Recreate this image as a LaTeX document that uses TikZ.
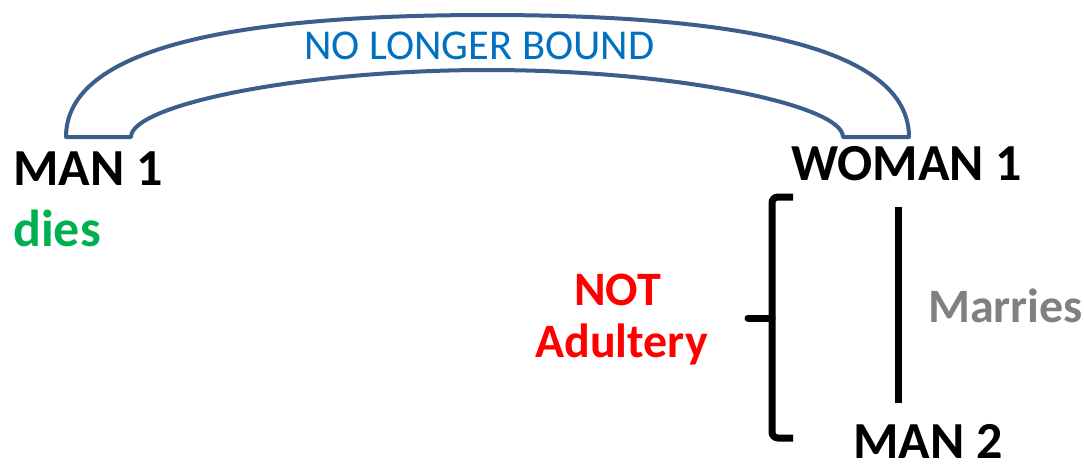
\documentclass[tikz,border=0pt]{standalone}
\usepackage{fontspec}
\setmainfont{Carlito}
\definecolor{archblue}{RGB}{59,94,140}
\definecolor{txtblue}{RGB}{0,112,192}
\definecolor{txtgreen}{RGB}{0,176,80}
\definecolor{txtred}{RGB}{255,0,0}
\definecolor{txtgray}{RGB}{128,128,128}
\begin{document}
\begin{tikzpicture}[x=1pt,y=-1pt,
  lbl/.style={anchor=base west,inner sep=0pt,font=\fontsize{52}{55}\selectfont\bfseries},
  sublbl/.style={anchor=base west,inner sep=0pt,font=\fontsize{48}{51}\selectfont\bfseries},
  thick line/.style={line width=7pt,black}]
\useasboundingbox (0,0) rectangle (1084,467);
% arch
\draw[archblue,line width=4pt,fill=white,line join=round]
  (66,137) .. controls (66,47) and (237,15) .. (487.5,15)
  .. controls (738,15) and (909,47) .. (909,137)
  -- (843,137)
  .. controls (843,105) and (675,70) .. (487.5,70)
  .. controls (300,70) and (131,105) .. (131,137) -- cycle;
\node[anchor=base west,inner sep=0pt,font=\fontsize{42.5}{45}\selectfont,text=txtblue] (bound) at (304,59) {NO LONGER BOUND};
\node[lbl] (man1) at (13,185) {MAN 1};
\node[lbl,text=txtgreen] (dies) at (13,246) {dies};
\node[lbl] (woman1) at (791,180) {WOMAN 1};
\node[sublbl,text=txtred] (not) at (574,305) {NOT};
\node[sublbl,text=txtred] (adult) at (535,357) {Adultery};
\node[sublbl,text=txtgray] (marries) at (928,322) {Marries};
\node[lbl] (man2) at (853,458) {MAN 2};
% brace
\draw[thick line,rounded corners=6pt] (793,197) -- (772,197) -- (772,318) -- (772,438) -- (793,438);
\draw[thick line,line cap=round] (772,318) -- (748,318);
% marries line
\coordinate (ltop) at (898,207);
\coordinate (lbot) at (898,403);
\draw[thick line] (ltop) -- (lbot);
\end{tikzpicture}
\end{document}
